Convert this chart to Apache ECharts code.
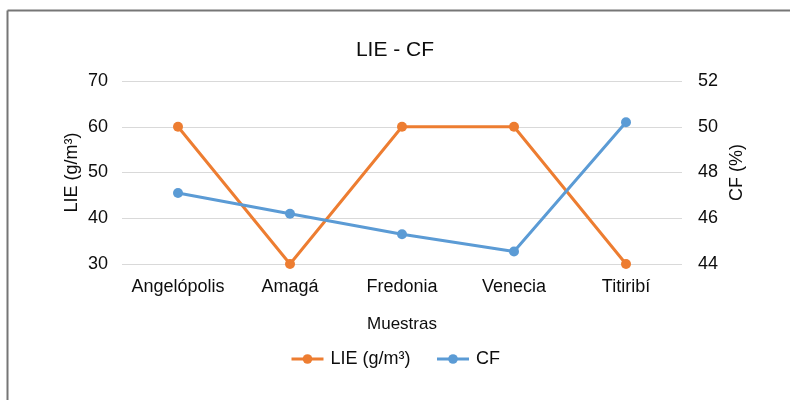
<!DOCTYPE html>
<html><head><meta charset="utf-8">
<script src="https://cdn.jsdelivr.net/npm/echarts@6/dist/echarts.min.js"></script>
<style>html,body{margin:0;padding:0;background:#fff}#c{width:790px;height:400px}</style>
</head><body><div id="c"></div>
<script>
const categories = ['Angelópolis', 'Amagá', 'Fredonia', 'Venecia', 'Titiribí'];
const lieValues = [60, 30, 60, 60, 30];
const cfValues = [47.1, 46.2, 45.3, 44.55, 50.2];
const font = 'Arial, "Liberation Sans", sans-serif';
const txt = '#0d0d0d';
const chart = echarts.init(document.getElementById('c'), null, {renderer: 'canvas'});
chart.setOption({
  animation: false,
  backgroundColor: '#fff',
  title: {text: 'LIE - CF', left: 'center', top: 35, textStyle: {fontFamily: font, fontSize: 21, fontWeight: 'normal', color: txt}},
  grid: {left: 122, right: 108, top: 81, bottom: 136},
  legend: {top: 345, left: 'center', itemWidth: 32, itemHeight: 12, itemGap: 25,
    lineStyle: {width: 3},
    textStyle: {fontFamily: font, fontSize: 18, color: txt, padding: [0, 0, 0, 2]},
    data: ['LIE (g/m³)', 'CF']},
  xAxis: {type: 'category', data: categories, name: 'Muestras', nameLocation: 'middle', nameGap: 52,
    nameTextStyle: {fontFamily: font, fontSize: 17, color: txt},
    axisLine: {show: false}, axisTick: {show: false},
    axisLabel: {fontFamily: font, fontSize: 18, color: txt, margin: 14, interval: 0}},
  yAxis: [
    {type: 'value', min: 30, max: 70, interval: 10, name: 'LIE (g/m³)', nameLocation: 'middle', nameGap: 41,
      nameMoveOverlap: false,
      nameTextStyle: {fontFamily: font, fontSize: 18, color: txt},
      axisLine: {show: false}, axisTick: {show: false},
      axisLabel: {fontFamily: font, fontSize: 18, color: txt, margin: 14},
      splitLine: {lineStyle: {color: '#d9d9d9', width: 1}}},
    {type: 'value', min: 44, max: 52, interval: 2, name: 'CF (%)', nameLocation: 'middle', nameGap: 46,
      nameRotate: 90, nameMoveOverlap: false,
      nameTextStyle: {fontFamily: font, fontSize: 18, color: txt},
      axisLine: {show: false}, axisTick: {show: false},
      axisLabel: {fontFamily: font, fontSize: 18, color: txt, margin: 16},
      splitLine: {show: false}}
  ],
  series: [
    {name: 'LIE (g/m³)', type: 'line', yAxisIndex: 0, data: lieValues, color: '#ed7d31',
      symbol: 'circle', symbolSize: 10, lineStyle: {width: 3}},
    {name: 'CF', type: 'line', yAxisIndex: 1, data: cfValues, color: '#5b9bd5',
      symbol: 'circle', symbolSize: 10, lineStyle: {width: 3}}
  ],
  graphic: [
    {type: 'line', shape: {x1: 7.5, y1: 10.5, x2: 7.5, y2: 400}, style: {stroke: '#767676', lineWidth: 2}},
    {type: 'line', shape: {x1: 7.5, y1: 10.5, x2: 790, y2: 10.5}, style: {stroke: '#767676', lineWidth: 2}}
  ]
});
</script></body></html>
